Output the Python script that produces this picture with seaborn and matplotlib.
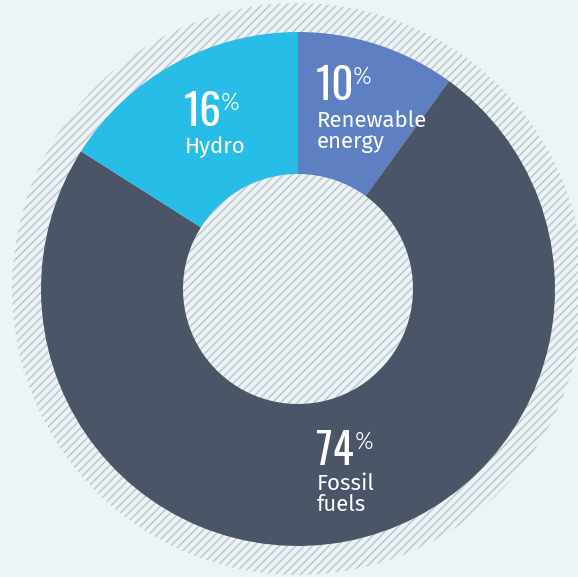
import matplotlib
matplotlib.use("Agg")
import matplotlib.pyplot as plt
import seaborn as sns
from matplotlib.patches import Circle

# data
sources = ["Renewable\nenergy", "Fossil\nfuels", "Hydro"]
shares = [10, 74, 16]
colors = ["#5e80c3", "#4a5567", "#28bde6"]

BG = "#edf4f8"
HATCH = "#c3cbd0"
NUM_FONT = ["Oswald Light", "Oswald", "Liberation Sans Narrow", "Liberation Sans"]
TXT_FONT = ["Fira Sans", "Liberation Sans", "DejaVu Sans"]

sns.set_theme(style="white")
plt.rcParams["font.family"] = TXT_FONT
plt.rcParams["hatch.linewidth"] = 1.2

W, H = 578, 577
fig = plt.figure(figsize=(W / 100, H / 100), dpi=100, facecolor=BG)
ax = fig.add_axes([0, 0, 1, 1])
ax.set_facecolor(BG)

cx, cy = 298, H - 289
r_out, r_in, r_hatch = 257, 115, 286

# striped backdrop circle
ax.add_patch(Circle((cx, cy), r_hatch, facecolor=BG, edgecolor=HATCH,
                    hatch="////", linewidth=0, zorder=0))

wedges, _ = ax.pie(shares, colors=colors, startangle=90, counterclock=False,
                   radius=r_out, center=(cx, cy),
                   wedgeprops=dict(width=r_out - r_in, linewidth=0))
for w in wedges:
    w.set_zorder(2)

# label anchors in pixels from top-left: x, number baseline, % x, line-1 baseline
label_pos = {
    "Hydro": (184, 126, 221, 153),
    "Renewable\nenergy": (316, 100, 353, 127),
    "Fossil\nfuels": (316, 465, 355, 490),
}
for name, val in zip(sources, shares):
    x, yn, xp, yt = label_pos[name]
    ax.text(x, H - yn, f"{val}", color="white", fontsize=31, ha="left",
            va="baseline", family=NUM_FONT, fontweight=300, zorder=5)
    ax.text(xp, H - yn + 35, "%", color="white", fontsize=17, ha="left",
            va="top", family=TXT_FONT, fontweight=300, zorder=5)
    for k, line in enumerate(name.split("\n")):
        ax.text(x + 1, H - yt - 21 * k, line, color="white", fontsize=16,
                ha="left", va="baseline", zorder=5)

ax.set_xlim(0, W)
ax.set_ylim(0, H)
ax.set_aspect("auto")
ax.axis("off")

fig.savefig("out.png", dpi=100, facecolor=BG)
